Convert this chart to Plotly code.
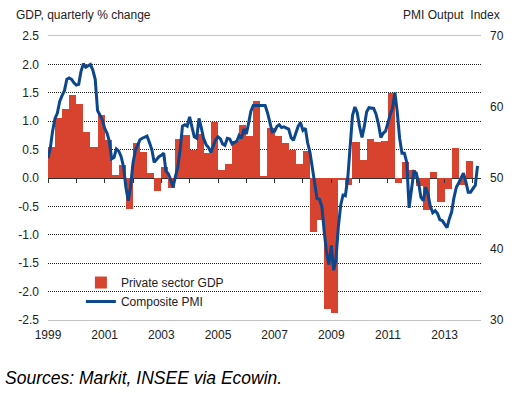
import pandas as pd
import plotly.graph_objects as go

# ---- data ----
gdp_start = "1999Q1"
gdp_values = [
    0.55, 1.05, 1.22, 1.46,
    1.31, 0.81, 0.54, 1.11,
    0.67, 0.06, 0.23, -0.55,
    0.62, 0.46, 0.09, -0.22,
    0.20, -0.18, 0.69, 0.76,
    0.50, 0.77, 0.44, 0.99,
    0.14, 0.25, 0.65, 0.94,
    0.74, 1.36, 0.04, 0.88,
    0.74, 0.62, 0.50, 0.25,
    0.48, -0.95, -0.74, -2.30,
    -2.38, -0.04, -0.12, 0.64,
    0.31, 0.68, 0.63, 0.65,
    1.50, -0.08, 0.28, 0.14,
    -0.14, -0.57, 0.10, -0.42,
    -0.19, 0.53, -0.12, 0.30,
]

pmi_start = "1999-01-01"
pmi_values = [
    52.8, 54.3, 56.6, 58.4, 59.1, 60.8, 61.6, 62.3, 63.9, 64.1, 63.9, 63.4,
    63.1, 63.2, 65.0, 66.1, 65.6, 65.8, 66.0, 65.2, 63.9, 59.5, 58.8, 58.2,
    57.0, 56.3, 55.2, 52.7, 52.9, 54.1, 53.8, 53.0, 51.6, 48.7, 46.8, 48.8,
    52.1, 53.9, 54.6, 55.4, 55.6, 55.7, 55.9, 55.0, 54.0, 52.2, 52.6, 53.0,
    53.2, 53.5, 51.0, 50.6, 49.8, 48.7, 50.2, 51.5, 54.0, 57.3, 57.5, 57.3,
    58.6, 56.9, 55.8, 55.6, 58.4, 57.0, 55.5, 54.7, 54.3, 53.6, 54.6, 55.4,
    55.8, 55.5, 54.8, 54.6, 55.6, 55.5, 54.8, 55.0, 55.2, 56.0, 55.6, 56.9,
    56.2, 57.8, 59.4, 60.2, 60.2, 60.3, 60.3, 60.2, 60.2, 59.2, 57.6, 56.5,
    56.6, 57.3, 57.5, 57.1, 57.2, 57.1, 56.9, 55.7, 55.3, 56.3, 57.3, 57.8,
    56.7, 57.0, 55.0, 53.6, 51.3, 48.9, 47.1, 47.0, 46.0, 42.5, 39.5, 37.8,
    40.5, 37.0, 38.5, 43.0, 46.1, 47.6, 47.5, 50.0, 55.0, 58.8, 60.0, 59.2,
    57.2, 55.7, 57.2, 59.3, 59.9, 59.8, 59.8, 59.0, 57.6, 55.7, 56.3, 56.6,
    58.0, 59.0, 59.8, 62.0, 59.3, 55.6, 53.5, 53.5, 52.2, 45.8, 48.4, 50.9,
    50.7, 49.3, 47.3, 46.8, 48.7, 47.7, 46.0, 45.1, 45.4, 45.0, 44.1, 44.0,
    43.5, 43.0, 44.2, 45.2, 47.2, 48.7, 49.3, 49.9, 50.7, 49.5, 48.0, 48.0,
    48.6, 49.0, 51.7,
]

year_ticks = list(range(1999, 2015))
year_labels = [str(y) for y in range(1999, 2014, 2)]
left_ticks = [2.5, 2.0, 1.5, 1.0, 0.5, 0.0, -0.5, -1.0, -1.5, -2.0, -2.5]
left_labels = ["2.5", "2.0", "1.5", "1.0", "0.5", "0.0", "-0.5", "-1.0", "-1.5", "-2.0", "-2.5"]
right_ticks = [30, 40, 50, 60, 70]
right_labels = ["30", "40", "50", "60", "70"]

# ---- derived ----
quarters = pd.period_range(gdp_start, periods=len(gdp_values), freq="Q")
q_start = quarters.start_time
q_end = (quarters + 1).start_time
q_mid = q_start + (q_end - q_start) / 2
q_width = [(e - s).total_seconds() * 1000 for s, e in zip(q_start, q_end)]
pmi_dates = pd.date_range(pmi_start, periods=len(pmi_values), freq="MS")

FONT = "Liberation Sans, Arial, sans-serif"
RED = "#d8432f"
BLUE = "#0c468c"

fig = go.Figure()
fig.add_trace(go.Bar(
    x=q_mid, y=gdp_values, width=q_width, name="Private sector GDP",
    marker=dict(color=RED, line=dict(width=0)), yaxis="y", xaxis="x",
))
fig.add_trace(go.Scatter(
    x=pmi_dates, y=pmi_values, mode="lines", name="Composite PMI",
    line=dict(color=BLUE, width=3), yaxis="y2", xaxis="x",
))
# invisible helper trace so the zero-line tick axis is drawn
fig.add_trace(go.Scatter(
    x=pmi_dates, y=[None] * len(pmi_dates), mode="lines", showlegend=False,
    hoverinfo="skip", xaxis="x2", yaxis="y",
))

x_range = ["1999-01-01", "2014-04-15"]

fig.update_layout(
    width=516, height=393,
    margin=dict(l=48, r=29, t=36, b=73),
    paper_bgcolor="white", plot_bgcolor="white",
    font=dict(family=FONT, size=12, color="#222"),
    bargap=0,
    showlegend=True,
    legend=dict(
        x=0.076, y=0.183, xanchor="left", yanchor="top",
        bgcolor="rgba(0,0,0,0)", font=dict(size=12, color="#222"),
        traceorder="normal",
    ),
    xaxis=dict(
        type="date", range=x_range,
        tickmode="array",
        tickvals=[f"{y}-01-01" for y in year_labels],
        ticktext=year_labels,
        ticks="", ticklabelstandoff=4,
        showgrid=False, zeroline=False,
        showline=True, mirror=True, linecolor="#c4c4c4", linewidth=1,
        tickfont=dict(size=12, color="#222"),
    ),
    xaxis2=dict(
        type="date", matches="x", overlaying="x", anchor="free", position=0.5,
        tickmode="array", tickvals=[f"{y}-01-01" for y in year_ticks],
        ticks="outside", ticklen=4, tickwidth=1, tickcolor="#333",
        showticklabels=False, showgrid=False, zeroline=False, showline=False,
    ),
    yaxis=dict(
        range=[-2.5, 2.5], tickmode="array",
        tickvals=left_ticks, ticktext=left_labels,
        ticks="", ticklabelstandoff=8,
        showgrid=False,
        minor=dict(tickvals=[2.0, 1.5, 1.0, 0.5, -0.5, -1.0, -1.5, -2.0],
                   showgrid=True, gridcolor="#222", griddash="1px,1px", gridwidth=1),
        zeroline=True, zerolinecolor="#333", zerolinewidth=1,
        showline=False, tickfont=dict(size=12, color="#222"),
    ),
    yaxis2=dict(
        range=[30, 70], overlaying="y", side="right", anchor="x",
        tickmode="array", tickvals=right_ticks, ticktext=right_labels,
        ticks="", ticklabelstandoff=8,
        showgrid=False, zeroline=False, showline=False,
        tickfont=dict(size=12, color="#222"),
    ),
    annotations=[
        dict(text="GDP, quarterly % change", xref="paper", yref="paper",
             x=-0.0775, y=1.074, xanchor="left", yanchor="middle",
             showarrow=False, font=dict(size=12, color="#222")),
        dict(text="PMI Output  Index", xref="paper", yref="paper",
             x=1.0478, y=1.074, xanchor="right", yanchor="middle",
             showarrow=False, font=dict(size=12, color="#222")),
        dict(text="<i>Sources: Markit, INSEE via Ecowin.</i>", xref="paper", yref="paper",
             x=-0.105, y=-0.204, xanchor="left", yanchor="middle",
             showarrow=False, font=dict(size=17.5, color="#000")),
    ],
)

fig.write_html("out.html", config={"displayModeBar": False},
               post_script="document.body.style.margin='0';")
